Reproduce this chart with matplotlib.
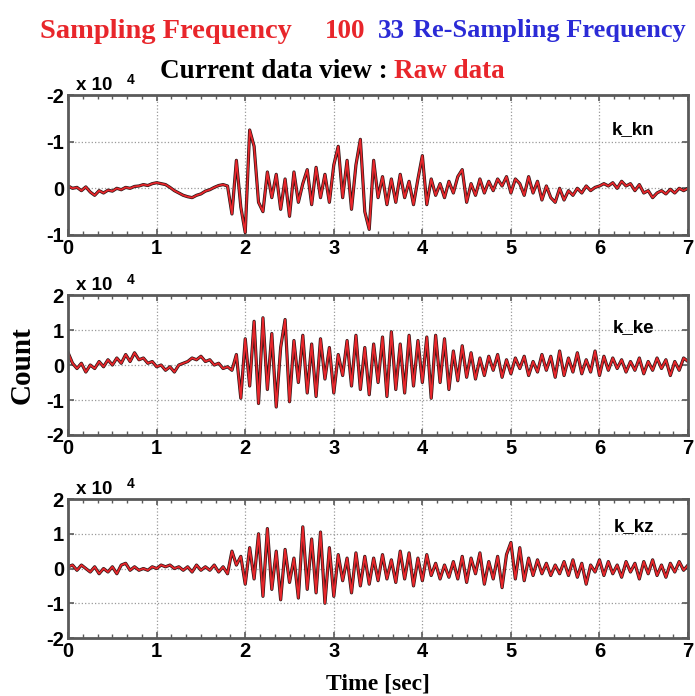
import numpy as np
import matplotlib
matplotlib.use("Agg")
import matplotlib.pyplot as plt
from matplotlib.ticker import MultipleLocator

# sample step of the traces (sec)
dt = 0.05

# k_kn, x 10^4 counts (axis drawn upside down in the original)
k_kn = [-0.05, 0.0, -0.02, 0.05, -0.03, 0.08, 0.15, 0.05, 0.1, 0.04,
        0.06, 0.0, 0.03, -0.02, 0.0, -0.04, -0.05, -0.08, -0.06, -0.1,
        -0.12, -0.1, -0.08, -0.02, 0.05, 0.1, 0.15, 0.18, 0.2, 0.15,
        0.12, 0.06, 0.03, -0.02, -0.06, -0.08, -0.05, 0.55, -0.6, 0.4,
        0.95, -1.25, -0.9, 0.3, 0.5, -0.35, 0.2, -0.3, 0.45, -0.2,
        0.6, -0.35, 0.3, -0.1, -0.4, 0.35, -0.45, 0.2, -0.3, 0.3,
        -0.5, -0.9, 0.2, -0.6, 0.45, -0.5, -1.05, 0.5, 0.88, -0.6,
        0.2, -0.25, 0.35, -0.2, 0.3, -0.3, 0.2, -0.15, 0.35, -0.2,
        -0.7, 0.35, -0.2, 0.15, -0.1, 0.2, -0.15, 0.1, -0.25, -0.4,
        0.3, -0.1, 0.15, -0.2, 0.1, -0.15, 0.05, -0.2, -0.05, -0.25,
        0.1, -0.2, -0.1, 0.15, -0.25, 0.1, -0.15, 0.25, -0.05, 0.2,
        0.3, 0.0, 0.25, 0.05, 0.15, 0.0, 0.1, -0.05, 0.05, -0.02,
        -0.05, -0.1, -0.05, -0.12, 0.0, -0.15, -0.05, -0.1, 0.05, -0.08,
        0.1, 0.05, 0.2, 0.1, 0.05, 0.12, 0.02, 0.1, 0.0, 0.05, 0.0]

k_ke = [0.35, 0.05, -0.1, 0.05, -0.2, 0.0, -0.1, 0.1, -0.05, 0.15,
        0.0, 0.2, 0.05, 0.3, 0.1, 0.35, 0.15, 0.2, 0.05, 0.1,
        -0.05, 0.0, -0.15, -0.05, -0.2, 0.0, 0.05, 0.1, 0.2, 0.15,
        0.25, 0.1, 0.15, 0.0, 0.05, -0.1, -0.05, -0.15, 0.3, -0.95,
        0.75, -0.6, 1.25, -1.1, 1.35, -0.7, 0.9, -1.2, 0.5, 1.3,
        -1.05, 0.7, -0.5, 0.85, -0.8, 0.6, -0.9, 0.75, -0.4, 0.5,
        -0.8, 0.3, -0.3, 0.7, -0.6, 0.85, -0.7, 0.5, -0.85, 0.6,
        -0.5, 0.8, -0.9, 0.95, -0.7, 0.6, -0.8, 0.85, -0.6, 0.7,
        -0.5, 0.8, -0.95, 0.85, -0.5, 0.75, -0.7, 0.4, -0.45, 0.55,
        -0.35, 0.35, -0.4, 0.2, -0.3, 0.25, -0.15, 0.3, -0.35, 0.15,
        -0.25, 0.2, -0.1, 0.25, -0.3, 0.1, -0.2, 0.3, -0.15, 0.25,
        -0.35, 0.4, -0.3, 0.2, -0.2, 0.35, -0.25, 0.15, -0.2, 0.4,
        -0.3, 0.25, -0.15, 0.2, -0.1, 0.15, -0.2, 0.1, -0.15, 0.2,
        -0.25, 0.1, -0.15, 0.2, -0.1, 0.15, -0.3, 0.1, -0.15, 0.2, 0.1]

k_kz = [0.05, 0.1, -0.05, 0.1, 0.0, -0.1, 0.05, -0.15, 0.0, -0.1,
        0.05, -0.15, 0.1, 0.15, -0.05, 0.05, -0.05, 0.0, -0.05, 0.05,
        0.0, 0.1, 0.05, 0.1, 0.0, 0.05, -0.05, 0.05, -0.1, 0.1,
        -0.05, 0.05, -0.05, 0.1, -0.1, 0.05, -0.15, 0.5, 0.1, 0.35,
        -0.45, 0.6, -0.3, 1.0, -0.8, 1.15, -0.6, 0.5, -0.9, 0.55,
        -0.4, 0.3, -0.85, 1.2, -0.6, 0.85, -0.7, 1.05, -1.0, 0.6,
        -0.8, 0.4, -0.35, 0.3, -0.7, 0.45, -0.5, 0.35, -0.45, 0.3,
        -0.35, 0.4, -0.3, 0.25, -0.4, 0.5, -0.3, 0.45, -0.5, 0.3,
        -0.35, 0.4, -0.2, 0.15, -0.3, 0.1, -0.25, 0.2, -0.3, 0.35,
        -0.4, 0.3, -0.15, 0.45, -0.45, 0.2, -0.3, 0.35, -0.55, 0.4,
        0.75, -0.3, 0.6, -0.35, 0.3, -0.2, 0.25, -0.15, 0.15, -0.2,
        0.1, -0.15, 0.2, -0.2, 0.25, -0.25, 0.15, -0.45, 0.1, -0.1,
        0.25, -0.2, 0.2, -0.15, 0.1, -0.25, 0.2, -0.1, 0.15, -0.3,
        0.2, -0.15, 0.25, -0.2, 0.1, -0.25, 0.15, -0.1, 0.2, -0.05, 0.1]

stations = ["k_kn", "k_ke", "k_kz"]
traces = [k_kn, k_ke, k_kz]
ylims = [(1, -2), (-2, 2), (-2, 2)]
yticks = [[-2, -1, 0, 1], [-2, -1, 0, 1, 2], [-2, -1, 0, 1, 2]]
yticklabels = [["-2", "-1", "0", "-1"], ["-2", "-1", "0", "1", "2"], ["-2", "-1", "0", "1", "2"]]
xticks = [0, 1, 2, 3, 4, 5, 6, 7]

red = "#e8262b"
blue = "#2b2bd6"
frame = "#5a5a5a"

fig = plt.figure(figsize=(6.95, 6.96), dpi=100)

boxes = [[0.098, 0.6624, 0.892, 0.2011],
         [0.098, 0.3750, 0.892, 0.2011],
         [0.098, 0.0833, 0.892, 0.1997]]
label_y = [0.75, 0.77, 0.80]

for i in range(3):
    ax = fig.add_axes(boxes[i])
    y = np.array(traces[i])
    t = np.arange(len(y)) * dt
    ax.plot(t, y, color="#2a1414", lw=2.3)
    ax.plot(t, y, color=red, lw=1.3)
    ax.set_xlim(0, 7)
    ax.set_ylim(*ylims[i])
    ax.set_xticks(xticks)
    ax.set_yticks(yticks[i])
    ax.set_yticklabels(yticklabels[i])
    ax.xaxis.set_minor_locator(MultipleLocator(1 / 6))
    ax.grid(True, which="major", ls=":", color="#9a9a9a", lw=0.9)
    ax.tick_params(which="both", direction="in", top=True, right=True,
                   color=frame, labelsize=14.5, pad=3)
    ax.tick_params(which="major", length=4, width=1.2)
    ax.tick_params(which="minor", length=3, width=1.0)
    for lab in ax.get_xticklabels() + ax.get_yticklabels():
        lab.set_fontweight("bold")
        lab.set_family("Liberation Sans")
    for sp in ax.spines.values():
        sp.set_color(frame)
        sp.set_linewidth(2)
    ax.text(0.945, label_y[i], stations[i], transform=ax.transAxes, ha="right",
            va="center", fontsize=13.5, fontweight="bold", family="Liberation Sans")
    ax.text(0.012, 1.005, "x 10", transform=ax.transAxes, ha="left",
            va="bottom", fontsize=13.5, fontweight="bold", family="Liberation Sans")
    ax.text(0.094, 1.055, "4", transform=ax.transAxes, ha="left",
            va="bottom", fontsize=10, fontweight="bold", family="Liberation Sans")

serif = "Liberation Serif"
fig.text(40 / 695, 1 - 31 / 696, "Sampling Frequency", color=red, fontsize=20.5,
         fontweight="bold", family=serif, va="center")
fig.text(325 / 695, 1 - 31 / 696, "100", color=red, fontsize=19.5,
         fontweight="bold", family=serif, va="center")
fig.text(378 / 695, 1 - 31 / 696, "33", color=blue, fontsize=19.5,
         fontweight="bold", family=serif, va="center")
fig.text(413 / 695, 1 - 31 / 696, "Re-Sampling Frequency", color=blue, fontsize=19,
         fontweight="bold", family=serif, va="center")
fig.text(160 / 695, 1 - 72 / 696, "Current data view :", color="black", fontsize=19.5,
         fontweight="bold", family=serif, va="center")
fig.text(394 / 695, 1 - 72 / 696, "Raw data", color=red, fontsize=19.5,
         fontweight="bold", family=serif, va="center")

fig.text(22 / 695, 1 - 365 / 696, "Count", rotation=90, fontsize=21, fontweight="bold",
         family=serif, ha="center", va="center")
fig.text(378 / 695, 1 - 684 / 696, "Time [sec]", fontsize=17, fontweight="bold",
         family=serif, ha="center", va="center")

fig.savefig("out.png", dpi=100)
